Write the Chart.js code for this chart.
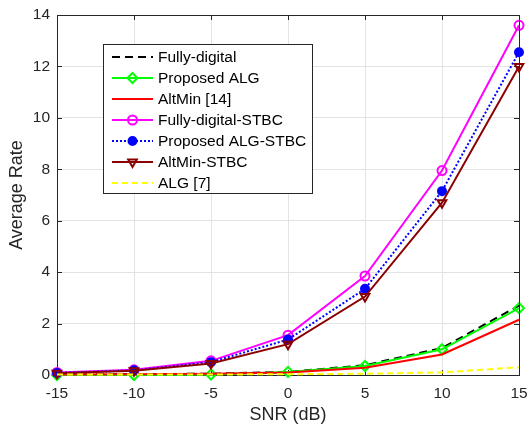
<!DOCTYPE html>
<html><head><meta charset="utf-8">
<script src="https://cdn.jsdelivr.net/npm/chart.js@4/dist/chart.umd.min.js"></script>
<style>html,body{margin:0;padding:0;background:#fff}#c{display:block}</style>
</head><body>
<canvas id="c" width="528" height="430"></canvas>
<script>
const snr = [-15, -10, -5, 0, 5, 10, 15];
const fullyDigital = [0.02, 0.03, 0.05, 0.12, 0.38, 1.05, 2.7];
const proposedALG = [0.0, 0.0, 0.02, 0.12, 0.35, 1.0, 2.6];
const altMin = [0.02, 0.03, 0.05, 0.1, 0.28, 0.8, 2.15];
const fullyDigitalSTBC = [0.1, 0.2, 0.55, 1.55, 3.85, 7.95, 13.6];
const proposedALGSTBC = [0.08, 0.18, 0.5, 1.38, 3.35, 7.15, 12.55];
const altMinSTBC = [0.07, 0.17, 0.45, 1.2, 3.05, 6.7, 12.0];
const alg7 = [0.02, 0.02, 0.02, 0.03, 0.05, 0.1, 0.3];
const xTicks = [-15, -10, -5, 0, 5, 10, 15];
const yTicks = [0, 2, 4, 6, 8, 10, 12, 14];

const pts = arr => arr.map((v, i) => ({x: snr[i], y: v}));
const FONT = '"Liberation Sans", Arial, sans-serif';
const TXT = '#262626';

const specs = [
  {label: 'Fully-digital', data: fullyDigital, color: '#000000', dash: [8, 5], style: false},
  {label: 'Proposed ALG', data: proposedALG, color: '#00ff00', dash: [], style: 'rectRot', fill: false, r: 5},
  {label: 'AltMin [14]', data: altMin, color: '#ff0000', dash: [], style: false},
  {label: 'Fully-digital-STBC', data: fullyDigitalSTBC, color: '#ff00ff', dash: [], style: 'circle', fill: false, r: 4.5},
  {label: 'Proposed ALG-STBC', data: proposedALGSTBC, color: '#0000ff', dash: [2, 2], style: 'circle', fill: true, r: 4},
  {label: 'AltMin-STBC', data: altMinSTBC, color: '#8b0000', dash: [], style: 'triangle', fill: false, r: 5, rot: 180},
  {label: 'ALG [7]', data: alg7, color: '#ffff00', dash: [6, 4], style: false}
];

const datasets = specs.map((s, i) => ({
  label: s.label,
  data: pts(s.data),
  borderColor: s.color,
  backgroundColor: s.fill ? s.color : 'rgba(255,255,255,0)',
  borderWidth: 2,
  borderDash: s.dash,
  pointStyle: s.style || 'circle',
  pointRadius: s.style ? s.r : 0,
  pointBorderWidth: 2,
  pointRotation: s.rot || 0,
  pointBackgroundColor: s.fill ? s.color : 'rgba(255,255,255,0)',
  pointBorderColor: s.color,
  tension: 0,
  order: specs.length - i,
  clip: false
}));

const boxPlugin = {
  id: 'boxLegend',
  beforeDatasetsDraw(chart) {
    const ctx = chart.ctx, a = chart.chartArea;
    const xs = chart.scales.x, ys = chart.scales.y;
    ctx.save();
    ctx.strokeStyle = TXT; ctx.lineWidth = 1; ctx.setLineDash([]);
    ctx.beginPath();
    xTicks.forEach(v => {
      const px = Math.round(xs.getPixelForValue(v)) + 0.5;
      ctx.moveTo(px, a.bottom); ctx.lineTo(px, a.bottom - 5);
      ctx.moveTo(px, a.top); ctx.lineTo(px, a.top + 5);
    });
    yTicks.forEach(v => {
      const py = Math.round(ys.getPixelForValue(v)) + 0.5;
      ctx.moveTo(a.left, py); ctx.lineTo(a.left + 5, py);
      ctx.moveTo(a.right, py); ctx.lineTo(a.right - 5, py);
    });
    ctx.stroke();
    ctx.restore();
  },
  afterDatasetsDraw(chart) {
    const ctx = chart.ctx, a = chart.chartArea;
    ctx.save();
    ctx.strokeStyle = TXT; ctx.lineWidth = 1; ctx.setLineDash([]);
    ctx.beginPath();
    ctx.moveTo(a.left, a.top + 0.5); ctx.lineTo(a.right + 0.5, a.top + 0.5); ctx.lineTo(a.right + 0.5, a.bottom);
    ctx.stroke();
    const lx = 103, ly = 44, lw = 209, lh = 149;
    ctx.fillStyle = '#fff'; ctx.fillRect(lx, ly, lw, lh);
    ctx.strokeStyle = '#262626'; ctx.lineWidth = 1;
    ctx.strokeRect(lx + 0.5, ly + 0.5, lw, lh);
    ctx.font = '15.5px ' + FONT; ctx.textBaseline = 'middle'; ctx.textAlign = 'left';
    chart.data.datasets.forEach((ds, i) => {
      const y = ly + 13 + i * 21;
      const x0 = lx + 9, x1 = lx + 50;
      ctx.strokeStyle = ds.borderColor; ctx.lineWidth = 2; ctx.setLineDash(ds.borderDash || []);
      ctx.beginPath(); ctx.moveTo(x0, y); ctx.lineTo(x1, y); ctx.stroke();
      ctx.setLineDash([]);
      if (ds.pointRadius > 0) {
        ctx.fillStyle = ds.pointBackgroundColor; ctx.strokeStyle = ds.pointBorderColor; ctx.lineWidth = 2;
        Chart.helpers.drawPoint(ctx, {pointStyle: ds.pointStyle, radius: ds.pointRadius, rotation: ds.pointRotation, borderWidth: 2}, (x0 + x1) / 2, y);
      }
      ctx.fillStyle = '#000';
      ctx.fillText(ds.label, x1 + 5, y + 1);
    });
    ctx.restore();
  }
};

new Chart(document.getElementById('c'), {
  type: 'line',
  data: {datasets},
  options: {
    responsive: false, animation: false,
    layout: {padding: {top: 15, right: 9, left: 0, bottom: 0}},
    plugins: {legend: {display: false}, tooltip: {enabled: false}},
    scales: {
      x: {
        type: 'linear', min: -15, max: 15,
        afterBuildTicks: ax => { ax.ticks = xTicks.map(v => ({value: v})); },
        afterFit: ax => { ax.height = 55; ax.paddingLeft = 0; ax.paddingRight = 0; },
        grid: {color: '#e3e3e3', drawTicks: false, tickLength: 0},
        border: {color: TXT, width: 1},
        ticks: {color: TXT, font: {family: FONT, size: 15.5}, padding: 9, maxRotation: 0},
        title: {display: true, text: 'SNR (dB)', color: TXT, font: {family: FONT, size: 18}, padding: {top: 5}}
      },
      y: {
        type: 'linear', min: 0, max: 14,
        afterBuildTicks: ax => { ax.ticks = yTicks.map(v => ({value: v})); },
        afterFit: ax => { ax.width = 57; ax.paddingTop = 0; ax.paddingBottom = 0; },
        grid: {color: '#e3e3e3', drawTicks: false, tickLength: 0},
        border: {color: TXT, width: 1},
        ticks: {color: TXT, font: {family: FONT, size: 15.5}, padding: 7},
        title: {display: true, text: 'Average Rate', color: TXT, font: {family: FONT, size: 18}, padding: {top: 6, bottom: 0}}
      }
    }
  },
  plugins: [boxPlugin]
});
</script>
</body></html>
